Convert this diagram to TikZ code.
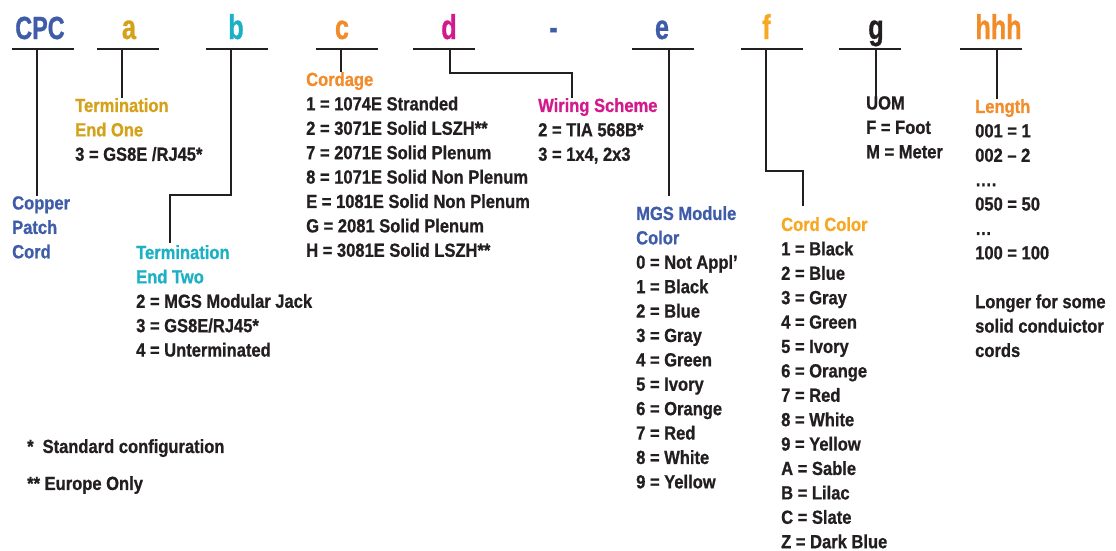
\documentclass[tikz,border=0pt]{standalone}
\usepackage{fontspec}
\setmainfont{Liberation Sans}[FakeStretch=0.87, FakeBold=0.8]
\newfontfamily\headfont{Liberation Sans}[FakeStretch=0.73, FakeBold=0.8]
\usepackage{xcolor}
\usetikzlibrary{positioning}

\definecolor{cpcblue}{HTML}{3E5CA8}
\definecolor{termgold}{HTML}{D4A21A}
\definecolor{termcyan}{HTML}{1BB0C4}
\definecolor{cordorange}{HTML}{F28B2A}
\definecolor{wiremagenta}{HTML}{D21A8C}
\definecolor{amber}{HTML}{F7A823}
\definecolor{ink}{HTML}{231F20}

\begin{document}
\begin{tikzpicture}[x=1pt, y=-1pt,
    head/.style={font=\headfont\bfseries\fontsize{34.5}{34.5}\selectfont, inner sep=0pt, anchor=base},
    bar/.style={fill=ink, inner sep=0pt, minimum width=62pt, minimum height=2.4pt},
    lbl/.style={font=\bfseries\fontsize{19}{24.4}\selectfont, align=left, inner sep=0pt, anchor=north west, text=ink},
    stem/.style={line width=1.6pt, draw=ink}]

        \useasboundingbox (0,0) rectangle (1116,550);

        % code letters
        \node[head, text=cpcblue, font=\headfont\bfseries\fontsize{32}{32}\selectfont] (cpc) at (40,39) {CPC};
        \node[head, text=termgold] (a) at (129,39) {a};
        \node[head, text=termcyan] (b) at (236,39) {b};
        \node[head, text=cordorange] (c) at (342,39) {c};
        \node[head, text=wiremagenta] (d) at (449,39) {d};
        \node[head, text=cpcblue] (dash) at (553.5,39) {-};
        \node[head, text=cpcblue] (e) at (662,39) {e};
        \node[head, text=amber] (f) at (766.5,39) {f};
        \node[head, text=ink] (g) at (876,39) {g};
        \node[head, text=cordorange] (hhh) at (998.5,39) {hhh};

        % underlines
        \node[bar] (cpc-bar) at (42.5,49) {};
        \node[bar] (a-bar) at (127.5,49) {};
        \node[bar] (b-bar) at (237,49) {};
        \node[bar] (c-bar) at (346.5,49) {};
        \node[bar] (d-bar) at (444,49) {};
        \node[bar] (e-bar) at (663,49) {};
        \node[bar] (f-bar) at (772,49) {};
        \node[bar] (g-bar) at (870,49) {};
        \node[bar] (hhh-bar) at (991,49) {};

        % field descriptions
        \node[lbl, text=cpcblue] (copper) at (12,196) {Copper\\Patch\\Cord};
        \node[lbl] (endone) at (75,98) {\textcolor{termgold}{Termination}\\\textcolor{termgold}{End One}\\3 = GS8E /RJ45*};
        \node[lbl] (endtwo) at (136,245) {\textcolor{termcyan}{Termination}\\\textcolor{termcyan}{End Two}\\2 = MGS Modular Jack\\3 = GS8E/RJ45*\\4 = Unterminated};
        \node[lbl] (cordage) at (306,72) {\textcolor{cordorange}{Cordage}\\1 = 1074E Stranded\\2 = 3071E Solid LSZH**\\7 = 2071E Solid Plenum\\8 = 1071E Solid Non Plenum\\E = 1081E Solid Non Plenum\\G = 2081 Solid Plenum\\H = 3081E Solid LSZH**};
        \node[lbl] (wiring) at (538,98) {\textcolor{wiremagenta}{Wiring Scheme}\\2 = TIA 568B*\\3 = 1x4, 2x3};
        \node[lbl] (module) at (636,206) {\textcolor{cpcblue}{MGS Module}\\\textcolor{cpcblue}{Color}\\0 = Not Appl’\\1 = Black\\2 = Blue\\3 = Gray\\4 = Green\\5 = Ivory\\6 = Orange\\7 = Red\\8 = White\\9 = Yellow};
        \node[lbl] (cordcolor) at (781,217) {\textcolor{amber}{Cord Color}\\1 = Black\\2 = Blue\\3 = Gray\\4 = Green\\5 = Ivory\\6 = Orange\\7 = Red\\8 = White\\9 = Yellow\\A = Sable\\B = Lilac\\C = Slate\\Z = Dark Blue};
        \node[lbl] (uom) at (866,96) {UOM\\F = Foot\\M = Meter};
        \node[lbl] (length) at (975,99) {\textcolor{cordorange}{Length}\\001 = 1\\002 – 2\\….\\050 = 50\\…\\100 = 100\\[24.4pt]Longer for some\\solid conduictor\\cords};

        % footnotes
        \node[lbl] (std) at (27,439) {*\hspace{9pt}Standard configuration};
        \node[lbl] (europe) at (27,476) {** Europe Only};

        \coordinate (b-knee) at (170,195);
        \coordinate (d-knee) at (572,73);
        \coordinate (f-knee) at (803,171);

        % leaders
        \draw[stem] ([xshift=-5.5pt]cpc-bar.center) -- ([xshift=-5.5pt]cpc-bar.center |- copper.north);
        \draw[stem] ([xshift=-5.5pt]a-bar.center) -- ([xshift=-5.5pt]a-bar.center |- endone.north);
        \draw[stem] ([xshift=-6pt]b-bar.center) |- (b-knee) -- ([yshift=2pt]b-knee |- endtwo.north);
        \draw[stem] ([xshift=-5.5pt]c-bar.center) -- ([xshift=-5.5pt]c-bar.center |- cordage.north);
        \draw[stem] ([xshift=6pt]d-bar.center) |- (d-knee) -- (d-knee |- wiring.north);
        \draw[stem] ([xshift=6pt]e-bar.center) -- ([xshift=6pt, yshift=10pt]e-bar.center |- module.north);
        \draw[stem] ([xshift=-6pt]f-bar.center) |- (f-knee) -- ([yshift=11pt]f-knee |- cordcolor.north);
        \draw[stem] ([xshift=6pt]g-bar.center) -- ([xshift=6pt, yshift=-2pt]g-bar.center |- uom.north);
        \draw[stem] ([xshift=6pt]hhh-bar.center) -- ([xshift=6pt]hhh-bar.center |- length.north);

    \end{tikzpicture}
\end{document}
